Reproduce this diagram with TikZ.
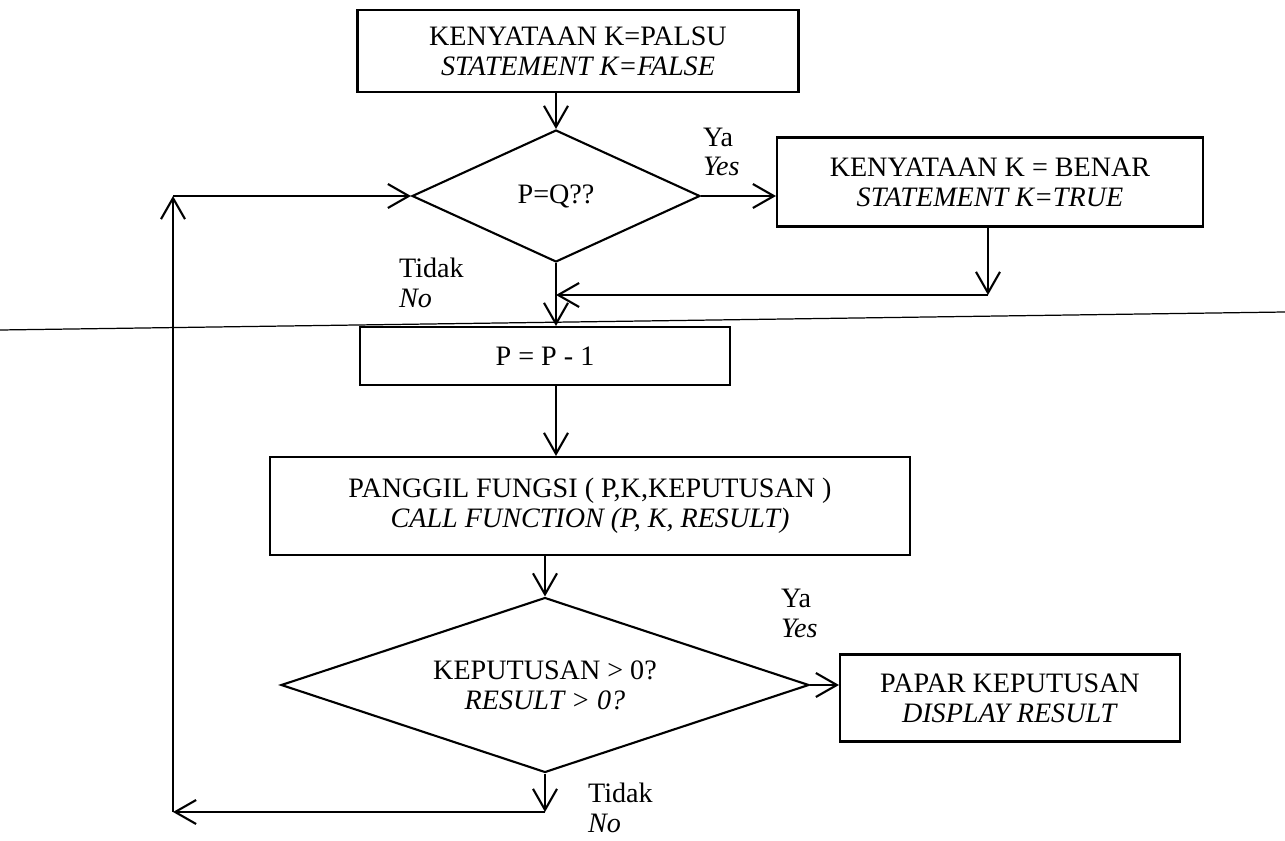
\documentclass[tikz,border=0pt]{standalone}
\usepackage{fontspec}
\setmainfont{Liberation Serif}
\usetikzlibrary{shapes.geometric,arrows.meta}

\begin{document}
\begin{tikzpicture}[x=0.02cm, y=-0.02cm, line width=1.2pt,
  box/.style={draw, rectangle, align=center, inner sep=0pt, font=\fontsize{16}{17}\selectfont},
  decision/.style={draw, diamond, align=center, inner sep=0pt, font=\fontsize{16}{17}\selectfont},
  lbl/.style={align=left, anchor=west, inner sep=0pt, font=\fontsize{16}{17}\selectfont},
  flow/.style={-{Straight Barb[length=0.42cm,width=0.48cm]}}]

\useasboundingbox (0,0) rectangle (1285,841);

%boxes and decisions
\node[box, minimum width=8.82cm, minimum height=1.64cm] (palsu) at (578,51) {KENYATAAN K=PALSU\\\textit{STATEMENT K=FALSE}};
\node[decision, shape aspect=2, minimum width=5.76cm, minimum height=2.64cm] (pq) at (556,196) {P=Q??};
\node[box, minimum width=8.52cm, minimum height=1.78cm] (benar) at (990,182) {KENYATAAN K = BENAR\\\textit{STATEMENT K=TRUE}};
\node[box, minimum width=7.4cm, minimum height=1.16cm] (kurang) at (545,356) {P = P - 1};
\node[box, minimum width=12.8cm, minimum height=1.96cm] (panggil) at (590,506) {PANGGIL FUNGSI ( P,K,KEPUTUSAN )\\\textit{CALL FUNCTION (P, K, RESULT)}};
\node[decision, shape aspect=3, minimum width=10.56cm, minimum height=3.5cm] (hasil) at (545,685) {KEPUTUSAN > 0?\\\textit{RESULT > 0?}};
\node[box, minimum width=6.8cm, minimum height=1.74cm] (papar) at (1010,698) {PAPAR KEPUTUSAN\\\textit{DISPLAY RESULT}};

%yes / no labels
\node[lbl] (ya1) at (702,152) {Ya\\\textit{Yes}};
\node[lbl] (tidak1) at (398,283) {Tidak\\\textit{No}};
\node[lbl] (ya2) at (780,613) {Ya\\\textit{Yes}};
\node[lbl] (tidak2) at (587,808) {Tidak\\\textit{No}};

%corner points
\coordinate (gabung) at (988,295);
\coordinate (bawah) at (545,812);
\coordinate (kiri) at (173,812);
\coordinate (atas) at (173,196);

%arrows
\draw[flow] (palsu.south -| pq.north) -- (pq.north);
\draw[flow] (pq.east) -- (pq.east -| benar.west);
\draw[flow] (benar.south -| gabung) -- (gabung);
\draw[flow] (gabung) -- (gabung -| pq.south);
\draw[flow] (pq.south) -- (kurang.north -| pq.south);
\draw[flow] (kurang.south -| pq.south) -- (panggil.north -| pq.south);
\draw[flow] (panggil.south -| hasil.north) -- (hasil.north);
\draw[flow] (hasil.east) -- (hasil.east -| papar.west);
\draw[flow] (hasil.south) -- (bawah);
\draw[flow] (bawah) -- (kiri);
\draw[flow] (kiri) -- (atas);
\draw[flow] (atas) -- (pq.west);

%scan line across the page
\draw[line width=0.7pt] (0,330) -- (1285,312);

\end{tikzpicture}
\end{document}
